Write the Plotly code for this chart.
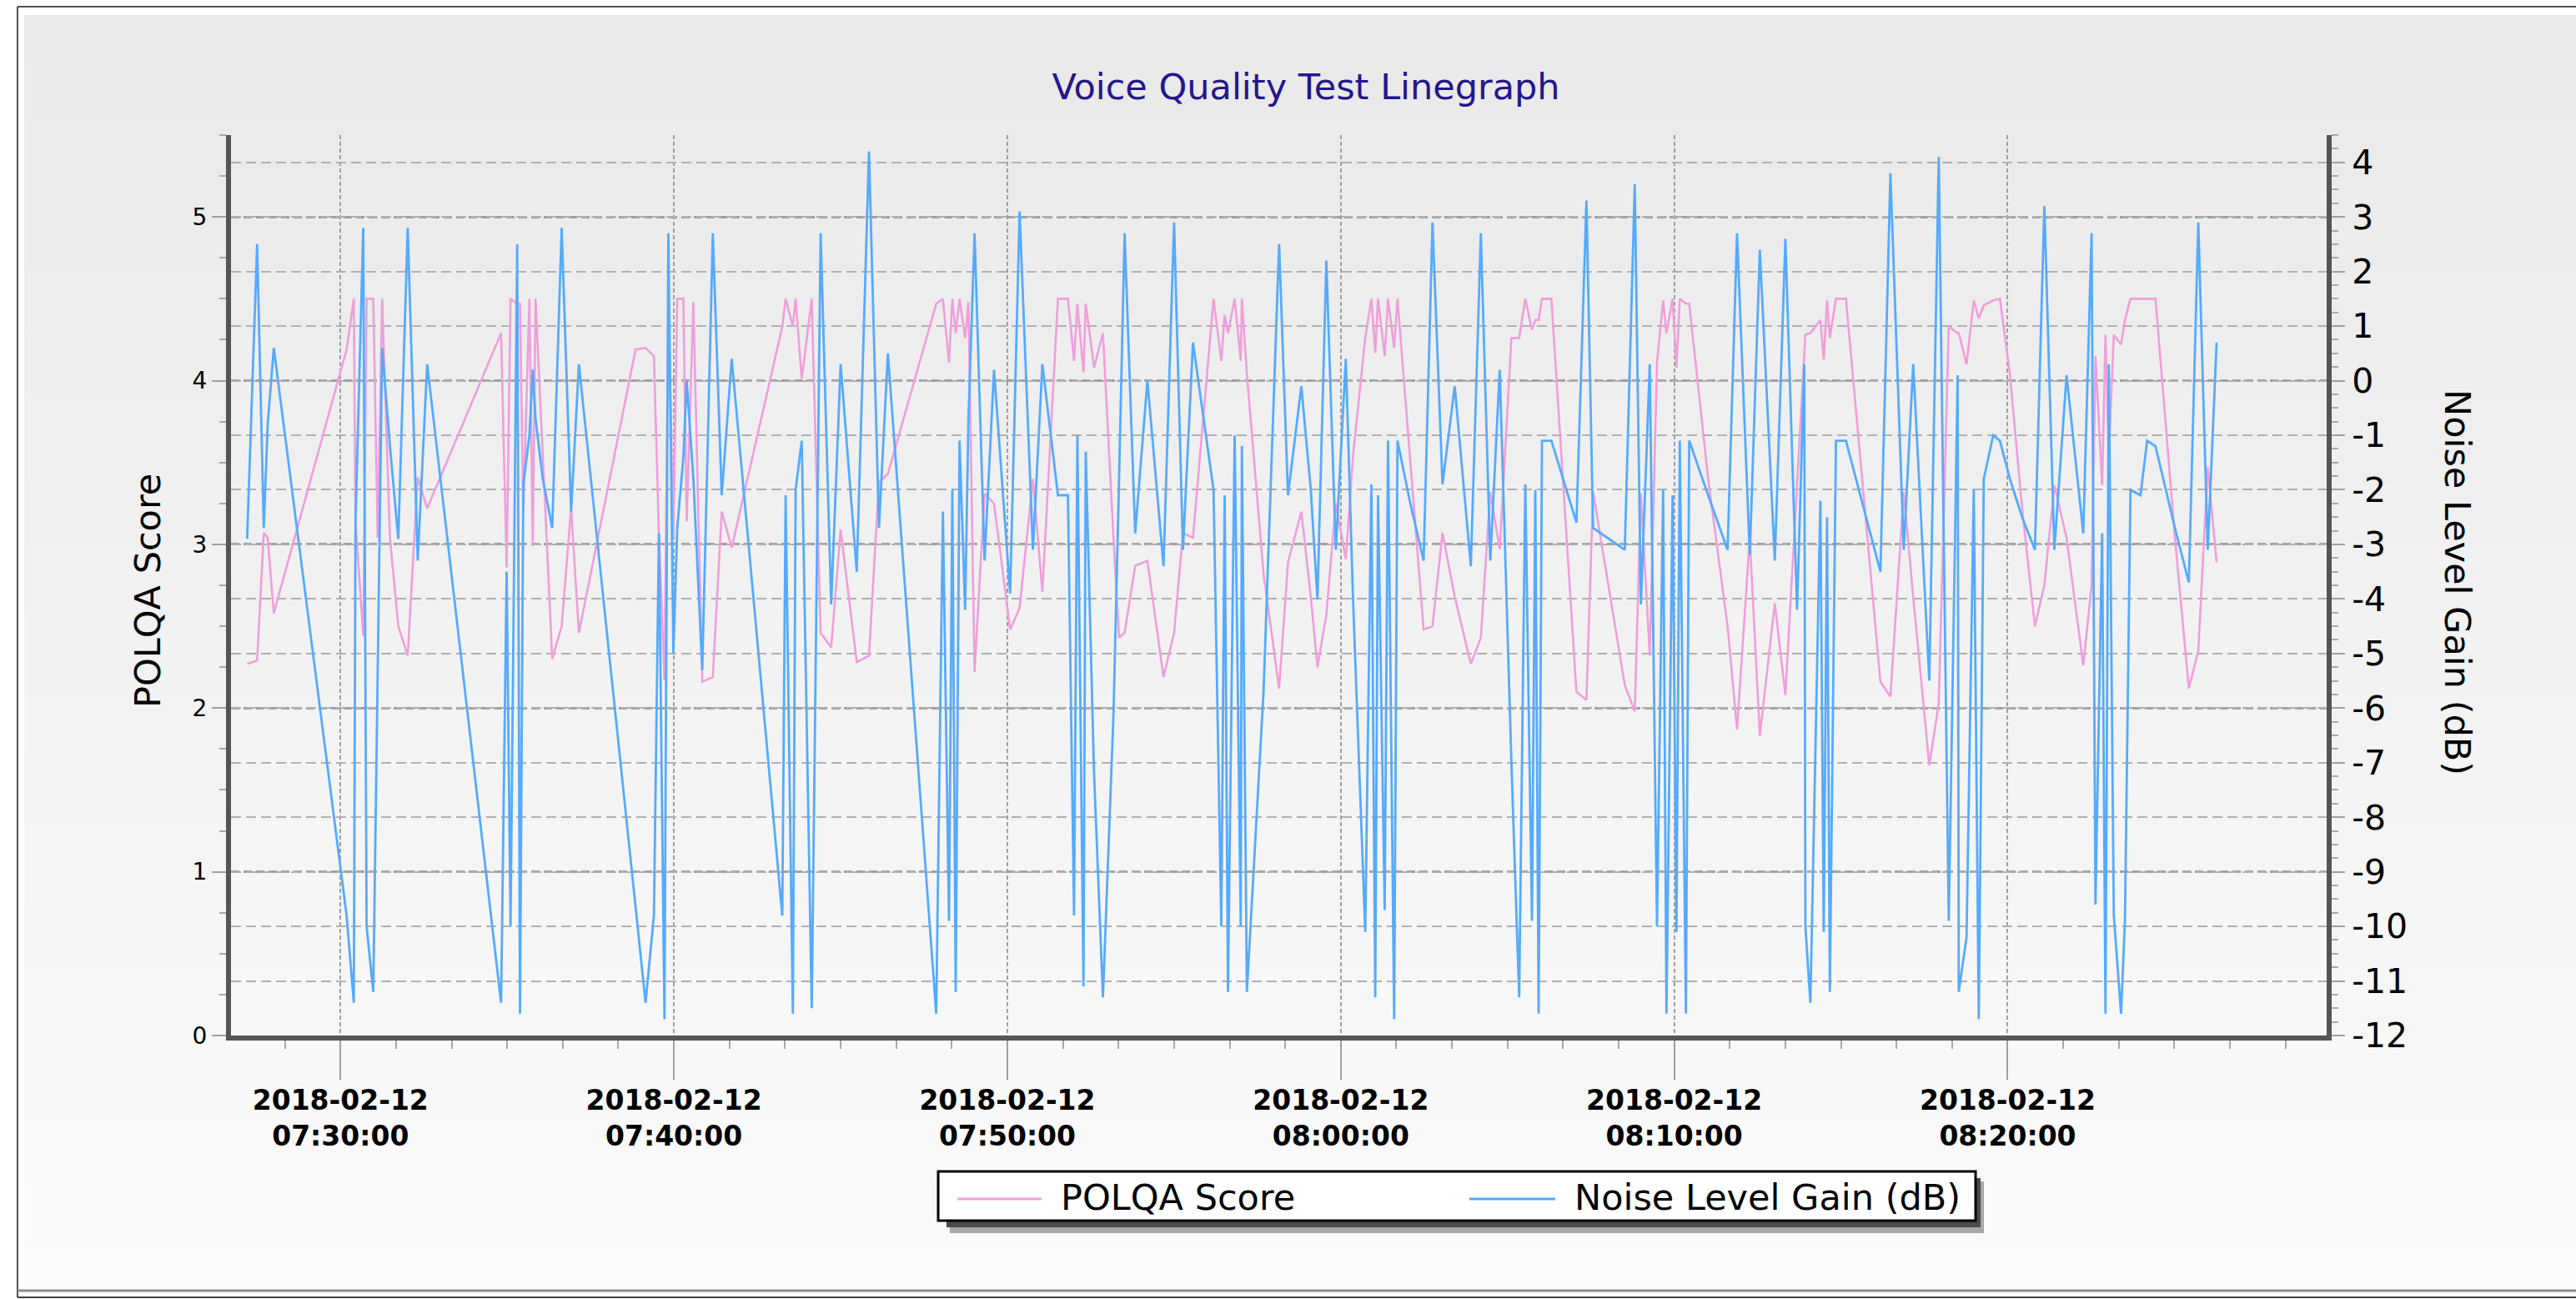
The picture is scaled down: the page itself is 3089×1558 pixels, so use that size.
import plotly.graph_objects as go

# ---------------- data ----------------
DATE = "2018-02-12"
times = [
    "07:27:12", "07:27:30", "07:27:42", "07:27:49", "07:28:00",
    "07:30:11", "07:30:24", "07:30:27", "07:30:41", "07:30:47", "07:30:59", "07:31:07", "07:31:15",
    "07:31:29", "07:31:44", "07:32:01", "07:32:19", "07:32:36",
    "07:34:49", "07:34:59", "07:35:06", "07:35:18", "07:35:23", "07:35:29", "07:35:40", "07:35:46",
    "07:35:51", "07:36:04", "07:36:21", "07:36:38", "07:36:55", "07:37:09",
    "07:38:51", "07:39:09", "07:39:24", "07:39:33", "07:39:43", "07:39:50", "07:39:59", "07:40:06",
    "07:40:17", "07:40:23", "07:40:35", "07:40:51", "07:41:10", "07:41:26", "07:41:44",
    "07:43:15", "07:43:21", "07:43:34", "07:43:39", "07:43:50", "07:44:08", "07:44:24", "07:44:43",
    "07:45:00", "07:45:29", "07:45:51", "07:46:09", "07:46:25",
    "07:47:52", "07:48:04", "07:48:15", "07:48:21", "07:48:27", "07:48:34", "07:48:44", "07:48:50",
    "07:49:01", "07:49:19", "07:49:36", "07:50:05", "07:50:22", "07:50:46", "07:51:03", "07:51:31",
    "07:51:49", "07:52:00", "07:52:06", "07:52:17", "07:52:21", "07:52:36", "07:52:52", "07:53:11",
    "07:53:21", "07:53:31", "07:53:50", "07:54:12", "07:54:41", "07:55:00", "07:55:16", "07:55:34",
    "07:56:11", "07:56:25", "07:56:31", "07:56:37", "07:56:49", "07:57:00", "07:57:02", "07:57:11",
    "07:57:41", "07:58:09", "07:58:25", "07:58:49", "07:59:06", "07:59:18", "07:59:34", "07:59:51",
    "08:00:09", "08:00:22", "08:00:44", "08:00:55", "08:01:02", "08:01:07", "08:01:19", "08:01:25",
    "08:01:36", "08:01:42", "08:02:04", "08:02:29", "08:02:45", "08:03:03", "08:03:25", "08:03:54",
    "08:04:12", "08:04:29", "08:04:46", "08:05:07", "08:05:21", "08:05:32", "08:05:44", "08:05:50",
    "08:05:56", "08:06:02", "08:06:19",
    "08:07:04", "08:07:22", "08:07:34", "08:08:31", "08:08:49", "08:09:00", "08:09:16", "08:09:29",
    "08:09:40", "08:09:46", "08:09:57", "08:10:04", "08:10:10", "08:10:21", "08:10:27",
    "08:11:01", "08:11:36", "08:11:53", "08:12:16", "08:12:34", "08:13:01", "08:13:20", "08:13:41",
    "08:13:54", "08:13:56", "08:14:05", "08:14:23", "08:14:29", "08:14:35", "08:14:40", "08:14:51",
    "08:15:09",
    "08:16:11", "08:16:29", "08:16:53", "08:17:10", "08:17:39", "08:17:56", "08:18:14", "08:18:30",
    "08:18:32", "08:18:46", "08:18:59", "08:19:08", "08:19:17", "08:19:34", "08:19:46",
    "08:20:04", "08:20:26", "08:20:49", "08:21:06", "08:21:24", "08:21:46", "08:22:16", "08:22:31",
    "08:22:38", "08:22:50", "08:22:56", "08:23:02", "08:23:11", "08:23:24", "08:23:31", "08:23:41",
    "08:23:59", "08:24:11", "08:24:26", "08:25:01", "08:25:26", "08:25:43", "08:26:00", "08:26:16",
]

polqa_score = [
    2.27, 2.29, 3.07, 3.04, 2.58,
    4.19, 4.50, 3.14, 2.44, 4.50, 4.50, 3.04, 4.50,
    3.04, 2.50, 2.32, 3.41, 3.22,
    4.29, 2.86, 4.50, 4.47, 4.47, 3.20, 4.50, 2.99,
    4.50, 3.58, 2.30, 2.50, 3.22, 2.46,
    4.19, 4.20, 4.15, 3.07, 2.17, 4.50, 3.04, 4.50,
    4.50, 3.14, 4.48, 2.16, 2.19, 3.20, 2.98,
    4.33, 4.50, 4.33, 4.50, 4.01, 4.50, 2.46, 2.37,
    3.09, 2.28, 2.32, 3.38, 3.43,
    4.47, 4.50, 4.11, 4.50, 4.29, 4.50, 4.26, 4.48,
    2.22, 3.31, 3.25, 2.48, 2.61, 3.40, 2.71, 4.50,
    4.50, 4.12, 4.47, 4.05, 4.47, 4.08, 4.29, 3.04,
    2.43, 2.46, 2.87, 2.90, 2.19, 2.46, 3.07, 3.04,
    4.50, 4.12, 4.40, 4.29, 4.50, 4.12, 4.50, 4.04,
    2.82, 2.12, 2.89, 3.20, 2.68, 2.25, 2.57, 3.25,
    2.91, 3.54, 4.26, 4.50, 4.17, 4.50, 4.15, 4.50,
    4.20, 4.50, 3.54, 2.48, 2.50, 3.07, 2.68, 2.27,
    2.43, 3.32, 2.97, 4.26, 4.26, 4.50, 4.31, 4.37,
    4.37, 4.50, 4.50,
    2.10, 2.05, 3.32, 2.14, 1.98, 3.31, 2.32, 4.11,
    4.49, 4.29, 4.50, 4.08, 4.50, 4.47, 4.47,
    3.40, 2.50, 1.87, 3.04, 1.83, 2.64, 2.08, 3.40,
    4.19, 4.28, 4.29, 4.37, 4.13, 4.49, 4.26, 4.50,
    4.50,
    2.16, 2.07, 3.32, 2.68, 1.65, 2.03, 4.33, 4.29,
    4.29, 4.10, 4.49, 4.38, 4.46, 4.49, 4.50,
    4.04, 3.22, 2.50, 2.75, 3.36, 3.04, 2.26, 2.75,
    4.15, 3.36, 4.28, 3.54, 4.28, 4.22, 4.37, 4.50,
    4.50, 4.50, 4.50, 3.04, 2.12, 2.35, 3.47, 2.89,
]

noise_level_gain_db = [
    -2.9, 2.5, -2.7, -0.8, 0.6,
    -9.8, -11.4, -2.6, 2.8, -10.0, -11.2, -5.0, 0.6,
    -1.2, -2.9, 2.8, -3.3, 0.3,
    -11.4, -3.5, -10.0, 2.5, -11.6, -1.9, -1.0, 0.2,
    -0.7, -1.8, -2.7, 2.8, -2.4, 0.3,
    -9.7, -11.4, -9.8, -2.8, -11.7, 2.7, -5.0, -2.7,
    -1.4, 0.0, -1.8, -5.3, 2.7, -2.1, 0.4,
    -9.8, -2.1, -11.6, -2.0, -1.1, -11.5, 2.7, -4.1,
    0.3, -3.5, 4.2, -2.7, 0.5,
    -11.6, -2.4, -9.9, -2.0, -11.2, -1.1, -4.2, -0.7,
    2.7, -3.3, 0.2, -3.9, 3.1, -3.1, 0.3, -2.1,
    -2.1, -9.8, -1.0, -11.1, -1.3, -7.2, -11.3, -6.1,
    -1.8, 2.7, -2.8, 0.0, -3.4, 2.9, -3.1, 0.7,
    -2.0, -10.0, -2.1, -11.2, -1.0, -10.0, -1.2, -11.2,
    -5.7, 2.5, -2.1, -0.1, -2.0, -4.0, 2.2, -3.1,
    0.4, -4.0, -10.1, -1.9, -11.3, -2.1, -9.7, -1.1,
    -11.7, -1.1, -2.2, -3.3, 2.9, -1.9, -0.1, -3.4,
    2.7, -3.3, 0.2, -7.0, -11.3, -1.9, -9.9, -2.0,
    -11.6, -1.1, -1.1,
    -2.6, 3.3, -2.7, -3.1, 3.6, -4.1, 0.3, -10.0,
    -2.0, -11.6, -2.1, -10.1, -1.1, -11.6, -1.1,
    -2.1, -3.1, 2.7, -3.2, 2.4, -3.3, 2.6, -4.2,
    0.3, -10.0, -11.4, -2.2, -10.1, -2.5, -11.2, -1.1,
    -1.1,
    -3.5, 3.8, -3.1, 0.3, -5.5, 4.1, -9.9, 0.1,
    -11.2, -10.2, -2.0, -11.7, -1.8, -1.0, -1.1,
    -1.8, -2.5, -3.1, 3.2, -3.1, 0.1, -2.8, 2.7,
    -9.6, -2.8, -11.6, 0.3, -9.8, -11.6, -9.9, -2.0,
    -2.1, -1.1, -1.2, -2.7, -3.7, 2.9, -3.1, 0.7,
]

x_range = ["2018-02-12 07:26:43", "2018-02-12 08:29:34"]
y_left_range = [0, 5.5]
y_right_range = [-12, 4.5]
y_right_ticks = list(range(-12, 5))
y_right_ticktext = [str(v) for v in y_right_ticks]   # plain hyphen-minus

TITLE = "Voice Quality Test Linegraph"
SERIES_NAMES = ["POLQA Score", "Noise Level Gain (dB)"]

# ---------------- styling ----------------
W, H = 3089, 1558
PL, PR, PT, PB = 277, 2790, 162, 1242      # plot area in pixels
PW, PH = PR - PL, PB - PT
FONT = "DejaVu Sans"
PINK = "#ef9fda"
BLUE = "#55aaff"


def X(px):
    return (px - PL) / PW


def Y(py):
    return (PB - py) / PH


x_vals = [f"{DATE} {t}" for t in times]

fig = go.Figure()
fig.add_trace(go.Scatter(x=x_vals, y=polqa_score, mode="lines", name=SERIES_NAMES[0],
                         line=dict(color=PINK, width=2.6), yaxis="y"))
fig.add_trace(go.Scatter(x=x_vals, y=noise_level_gain_db, mode="lines", name=SERIES_NAMES[1],
                         line=dict(color=BLUE, width=2.8), yaxis="y2"))

shapes = []
# background gradient panel
n = 60
top, bot = 18, 1546
h = (bot - top) / n
for i in range(n):
    g = round(233 + 18 * (i + 0.5) / n)
    shapes.append(dict(type="rect", xref="paper", yref="paper", layer="below",
                       x0=X(29), x1=X(W + 5), y0=Y(top + i * h), y1=Y(top + (i + 1) * h + 1),
                       fillcolor=f"rgb({g},{g},{g})", line=dict(width=0)))
# outer frame
shapes += [
    dict(type="line", xref="paper", yref="paper", layer="below", x0=X(21), x1=X(W + 5), y0=Y(8), y1=Y(8),
         line=dict(color="#505050", width=2)),
    dict(type="line", xref="paper", yref="paper", layer="below", x0=X(21), x1=X(21), y0=Y(8), y1=Y(1556),
         line=dict(color="#505050", width=2)),
    dict(type="line", xref="paper", yref="paper", layer="below", x0=X(21), x1=X(W + 5), y0=Y(1548), y1=Y(1548),
         line=dict(color="#8c8c8c", width=3)),
    dict(type="line", xref="paper", yref="paper", layer="below", x0=X(21), x1=X(W + 5), y0=Y(1556), y1=Y(1556),
         line=dict(color="#404040", width=2)),
]
# manual legend with drop shadow
LX0, LX1, LY0, LY1 = 1125, 2369, 1405, 1464
shapes += [
    dict(type="rect", xref="paper", yref="paper", layer="above",
         x0=X(LX0 + 14), x1=X(LX1 + 10), y0=Y(LY0 + 12), y1=Y(LY1 + 15),
         fillcolor="#a8a8a8", line=dict(width=0)),
    dict(type="rect", xref="paper", yref="paper", layer="above",
         x0=X(LX0 + 10), x1=X(LX1 + 6), y0=Y(LY0 + 8), y1=Y(LY1 + 8),
         fillcolor="#4a4a4a", line=dict(width=0)),
    dict(type="rect", xref="paper", yref="paper", layer="above",
         x0=X(LX0), x1=X(LX1), y0=Y(LY0), y1=Y(LY1),
         fillcolor="white", line=dict(color="black", width=3)),
    dict(type="line", xref="paper", yref="paper", layer="above",
         x0=X(1148), x1=X(1249), y0=Y(1438), y1=Y(1438), line=dict(color=PINK, width=3)),
    dict(type="line", xref="paper", yref="paper", layer="above",
         x0=X(1762), x1=X(1865), y0=Y(1438), y1=Y(1438), line=dict(color=BLUE, width=3)),
]

annotations = [
    dict(text=SERIES_NAMES[0], xref="paper", yref="paper", x=X(1270), y=Y(1436),
         xanchor="left", yanchor="middle", showarrow=False, font=dict(family=FONT, size=43, color="black")),
    dict(text=SERIES_NAMES[1], xref="paper", yref="paper", x=X(1886), y=Y(1436),
         xanchor="left", yanchor="middle", showarrow=False, font=dict(family=FONT, size=43, color="black")),
    dict(text=SERIES_NAMES[0], xref="paper", yref="paper", x=X(177), y=Y(709), textangle=-90,
         xanchor="center", yanchor="middle", showarrow=False, font=dict(family=FONT, size=43, color="black")),
    dict(text=SERIES_NAMES[1], xref="paper", yref="paper", x=X(2947), y=Y(698), textangle=90,
         xanchor="center", yanchor="middle", showarrow=False, font=dict(family=FONT, size=43, color="black")),
]

fig.update_layout(
    width=W, height=H,
    margin=dict(l=PL, r=W - PR, t=PT, b=H - PB, autoexpand=False),
    paper_bgcolor="white",
    plot_bgcolor="rgba(0,0,0,0)",
    showlegend=False,
    title=dict(text=TITLE, x=1566 / W, xanchor="center", y=1 - 104 / H, yanchor="middle",
               xref="container", yref="container",
               font=dict(family=FONT, size=43, color="#24168e")),
    xaxis=dict(
        type="date", range=x_range,
        tickmode="linear", tick0=f"{DATE} 07:30:00", dtick=600000,
        tickformat="%Y-%m-%d<br>%H:%M:%S",
        tickfont=dict(family=FONT, size=33, color="black", weight="bold"),
        ticklabelstandoff=-4,
        ticks="outside", ticklen=47, tickwidth=2, tickcolor="#a0a0a0",
        minor=dict(ticks="outside", ticklen=10, tickwidth=2, tickcolor="#a8a8a8",
                   tickmode="linear", tick0=f"{DATE} 07:30:00", dtick=100000, showgrid=False),
        showgrid=True, gridcolor="#a0a0a0", gridwidth=2, griddash="5px,3px",
        showline=True, linecolor="#555555", linewidth=6, zeroline=False,
    ),
    yaxis=dict(
        range=y_left_range, tickmode="linear", tick0=0, dtick=1,
        tickfont=dict(family=FONT, size=28, color="black"),
        ticks="outside", ticklen=17, tickwidth=2, tickcolor="#a0a0a0",
        minor=dict(ticks="outside", ticklen=8, tickwidth=2, tickcolor="#a8a8a8",
                   tickmode="linear", tick0=0, dtick=0.25, showgrid=False),
        showgrid=True, gridcolor="#a0a0a0", gridwidth=3, griddash="10px,5px",
        showline=True, linecolor="#555555", linewidth=6, zeroline=False,
    ),
    yaxis2=dict(
        overlaying="y", side="right", range=y_right_range,
        tickmode="array", tickvals=y_right_ticks, ticktext=y_right_ticktext,
        tickfont=dict(family=FONT, size=41, color="black"),
        ticks="outside", ticklen=16, tickwidth=2, tickcolor="#a0a0a0",
        minor=dict(ticks="outside", ticklen=8, tickwidth=2, tickcolor="#a8a8a8",
                   tickmode="linear", tick0=0, dtick=0.25, showgrid=False),
        showgrid=True, gridcolor="#b0b0b0", gridwidth=2, griddash="12px,6px",
        showline=True, linecolor="#555555", linewidth=6, zeroline=False,
    ),
    shapes=shapes,
    annotations=annotations,
)

fig.write_html("out.html", config={"displayModeBar": False, "responsive": False},
               post_script="document.body.style.margin='0';document.body.style.padding='0';")
